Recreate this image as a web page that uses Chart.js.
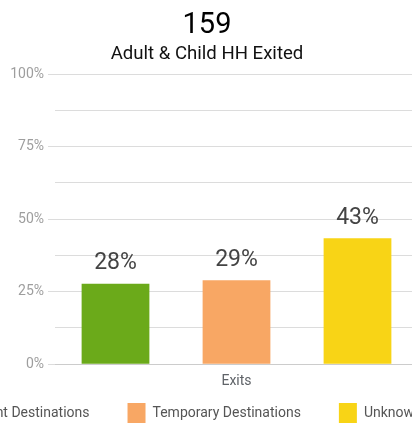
<!DOCTYPE html>
<html>
<head>
<meta charset="utf-8">
<script src="https://cdn.jsdelivr.net/npm/chart.js@4.4.1/dist/chart.umd.min.js"></script>
<style>
  html, body { margin: 0; padding: 0; background: #fff; overflow: hidden; }
  #wrap { position: relative; width: 412px; height: 423px; overflow: hidden; }
  #box { position: absolute; left: -153px; top: 0; width: 720px; height: 423px; }
</style>
</head>
<body>
<div id="wrap"><div id="box"><canvas id="exitChart"></canvas></div></div>
<script>
// --- 資料 ---
const totalExited = '159';
const subtitleText = 'Adult & Child HH Exited';
const categories = ['Exits'];
const seriesNames = ['Permanent Destinations', 'Temporary Destinations', 'Unknown Destinations'];
const seriesValues = [27.7, 28.9, 43.4];   // percent of exits
const seriesColors = ['#6BAA1A', '#F8A764', '#F8D416'];
const yTicks = [0, 25, 50, 75, 100];

// 長條上方的百分比文字
const barValueLabels = {
    id: 'barValueLabels',
    afterDatasetsDraw(chart) {
        const ctx = chart.ctx;
        ctx.save();
        ctx.font = '23px Roboto';
        ctx.fillStyle = '#444444';
        ctx.textAlign = 'center';
        ctx.textBaseline = 'bottom';
        chart.data.datasets.forEach((ds, i) => {
            const meta = chart.getDatasetMeta(i);
            meta.data.forEach((bar, j) => {
                ctx.fillText(Math.round(ds.data[j]) + '%', bar.x, bar.y - 9);
            });
        });
        ctx.restore();
    }
};

// 圖例：水平間距大，但垂直不要佔那麼多空間
const legendSpacing = {
    id: 'legendSpacing',
    afterInit(chart) {
        const lg = chart.legend;
        const fit = lg.fit;
        lg.fit = function () { fit.call(this); this.height -= 44; };
        const draw = lg.draw;
        lg.draw = function () {
            this.top -= 34; this.left += 4;
            draw.call(this);
            this.top += 34; this.left -= 4;
        };
    }
};

const datasets = seriesNames.map((name, i) => ({
    label: name,
    data: [seriesValues[i]],
    backgroundColor: seriesColors[i],
    borderWidth: 0,
    barPercentage: 0.56,
    categoryPercentage: 1.0
}));

new Chart(document.getElementById('exitChart'), {
    type: 'bar',
    data: { labels: categories, datasets: datasets },
    plugins: [barValueLabels, legendSpacing],
    options: {
        responsive: true,
        maintainAspectRatio: false,
        animation: false,
        layout: { padding: { top: 4, bottom: 0 } },
        scales: {
            x: {
                grid: { display: false, drawTicks: false },
                border: { display: false },
                ticks: { color: '#5f6368', font: { family: 'Roboto', size: 14 }, padding: 9 }
            },
            y: {
                min: 0,
                max: 100,
                afterFit(axis) { axis.width = 208; },
                afterBuildTicks(axis) {
                    axis.ticks = [];
                    for (let v = 0; v <= 100; v += 12.5) axis.ticks.push({ value: v });
                },
                grid: {
                    color: c => c.tick.value === 0 ? '#cccccc' : '#dcdcdc',
                    tickLength: 7,
                    tickColor: c => yTicks.includes(c.tick.value) ? '#dcdcdc' : 'rgba(0,0,0,0)'
                },
                border: { display: false },
                ticks: {
                    color: '#9e9e9e',
                    font: { family: 'Roboto', size: 14 },
                    padding: 4,
                    callback: v => yTicks.includes(v) ? v + '%' : ''
                }
            },
            yR: {
                position: 'right',
                afterFit(axis) { axis.width = 149; },
                grid: { display: false },
                border: { display: false },
                ticks: { display: false }
            }
        },
        plugins: {
            title: {
                display: true,
                text: totalExited,
                color: '#000',
                font: { family: 'Roboto', size: 29, weight: 'normal' },
                padding: { top: 4, bottom: 0 }
            },
            subtitle: {
                display: true,
                text: subtitleText,
                color: '#111',
                font: { family: 'Roboto', size: 18.6, weight: 'normal' },
                padding: { top: 0, bottom: 9 }
            },
            legend: {
                position: 'bottom',
                labels: {
                    boxWidth: 18,
                    boxHeight: 20,
                    padding: 38,
                    color: '#555',
                    font: { family: 'Roboto', size: 14 }
                }
            },
            tooltip: { enabled: false }
        }
    }
});
</script>
</body>
</html>
